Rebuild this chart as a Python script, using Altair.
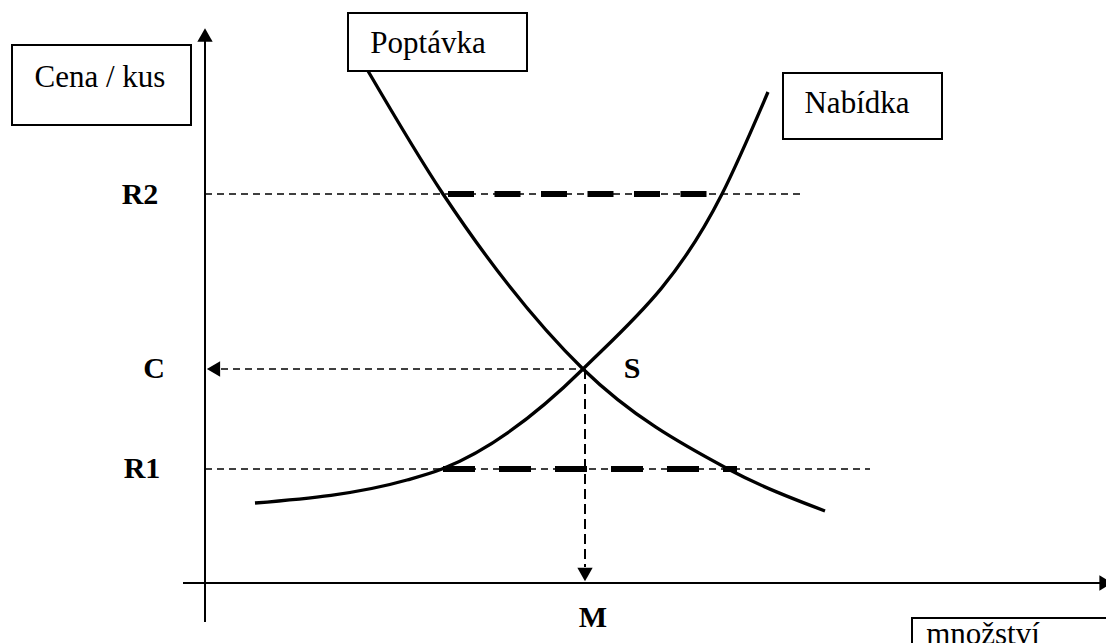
import altair as alt
import pandas as pd

# ---- data (diagram units: q = horizontal position, p = vertical position, top = small) ----
demand_q = [368, 443, 583, 728, 825]
demand_p = [71, 194, 369, 469, 511]

supply_q = [255, 407, 442, 583, 722, 768]
supply_p = [503, 480, 469, 369, 194, 92]

level_names = ["R2", "C", "R1"]
level_p = [194, 369, 469]
level_q_start = [205, 221, 205]
level_q_end = [800, 583, 870]

gap_names = ["R2", "R1"]
gap_p = [194, 469]
gap_q_start = [448, 443]
gap_q_end = [710, 737]

eq_q = 585
eq_p = 369
axis_q = 205
axis_p = 583

label_text = ["R2", "C", "R1", "S", "M"]
label_q = [140, 154, 142, 632, 593]
label_p = [195, 369, 469, 369, 618]

box_text = ["Cena / kus", "Poptávka", "Nabídka", "množství"]
box_q1 = [12, 348, 783, 912]
box_q2 = [191, 527, 942, 1130]
box_p1 = [45, 13, 73, 618]
box_p2 = [125, 71, 139, 680]
box_tq = [100, 428, 857, 983]
box_tp = [78, 44, 104, 635]

arrow_shape = ["triangle-up", "triangle-right", "triangle-left", "triangle-down"]
arrow_q = [205, 1106, 213.5, 585]
arrow_p = [35, 583, 369, 574.5]

# ---- scales ----
W, H = 1098, 645
xs = alt.Scale(domain=[8, 8 + W], nice=False, zero=False)
ys = alt.Scale(domain=[8 + H, 8], nice=False, zero=False)
FONT = "Liberation Serif"


def X(f):
    return alt.X(f, type="quantitative", scale=xs, axis=None)


def Y(f):
    return alt.Y(f, type="quantitative", scale=ys, axis=None)


demand = pd.DataFrame({"q": demand_q, "p": demand_p})
supply = pd.DataFrame({"q": supply_q, "p": supply_p})
levels = pd.DataFrame({"name": level_names, "p": level_p, "q1": level_q_start, "q2": level_q_end})
gaps = pd.DataFrame({"name": gap_names, "p": gap_p, "q1": gap_q_start, "q2": gap_q_end})
labels = pd.DataFrame({"t": label_text, "q": label_q, "p": label_p})
boxes = pd.DataFrame({"t": box_text, "q1": box_q1, "q2": box_q2, "p1": box_p1, "p2": box_p2,
                      "tq": box_tq, "tp": box_tp})
arrows = pd.DataFrame({"shape": arrow_shape, "q": arrow_q, "p": arrow_p})
axes_df = pd.DataFrame({"q1": [axis_q, 183], "q2": [axis_q, 1106], "p1": [30, axis_p], "p2": [622, axis_p]})
vert = pd.DataFrame({"q": [eq_q], "p1": [eq_p], "p2": [567]})

axis_lines = alt.Chart(axes_df).mark_rule(color="black", strokeWidth=2).encode(
    x=X("q1"), x2="q2", y=Y("p1"), y2="p2")

thin_levels = alt.Chart(levels).mark_rule(color="black", strokeWidth=1.5, strokeDash=[7, 5]).encode(
    x=X("q1"), x2="q2", y=Y("p"))

thick_r2 = alt.Chart(gaps[gaps.name == "R2"]).mark_rule(
    color="black", strokeWidth=6, strokeDash=[26, 20.5]).encode(x=X("q1"), x2="q2", y=Y("p"))
thick_r1 = alt.Chart(gaps[gaps.name == "R1"]).mark_rule(
    color="black", strokeWidth=6, strokeDash=[32, 24]).encode(x=X("q1"), x2="q2", y=Y("p"))

vline = alt.Chart(vert).mark_rule(color="black", strokeWidth=2, strokeDash=[10, 5]).encode(
    x=X("q"), y=Y("p1"), y2="p2")

demand_line = alt.Chart(demand).mark_line(color="black", strokeWidth=3.3, interpolate="monotone").encode(
    x=X("q"), y=Y("p"))
supply_line = alt.Chart(supply).mark_line(color="black", strokeWidth=3.3, interpolate="monotone").encode(
    x=X("q"), y=Y("p"))

box_rects = alt.Chart(boxes).mark_rect(fill="white", stroke="black", strokeWidth=2).encode(
    x=X("q1"), x2="q2", y=Y("p1"), y2="p2")
box_texts = alt.Chart(boxes).mark_text(font=FONT, fontSize=31, color="black",
                                       align="center", baseline="middle").encode(
    x=X("tq"), y=Y("tp"), text="t:N")

label_marks = alt.Chart(labels).mark_text(font=FONT, fontSize=30, fontWeight="bold", color="black",
                                          align="center", baseline="middle").encode(
    x=X("q"), y=Y("p"), text="t:N")

arrow_marks = [
    alt.Chart(arrows[arrows["shape"] == s]).mark_point(shape=s, filled=True, color="black",
                                                      size=235, opacity=1, strokeWidth=0).encode(
        x=X("q"), y=Y("p"))
    for s in arrow_shape
]

chart = alt.layer(
    thin_levels, thick_r2, thick_r1, vline, axis_lines,
    demand_line, supply_line, box_rects, box_texts, label_marks, *arrow_marks
).properties(
    width=W, height=H,
    autosize=alt.AutoSizeParams(type="none"),
    padding=0,
).configure_view(stroke=None)

chart.save("out.html", embed_options={"renderer": "svg", "actions": False})
